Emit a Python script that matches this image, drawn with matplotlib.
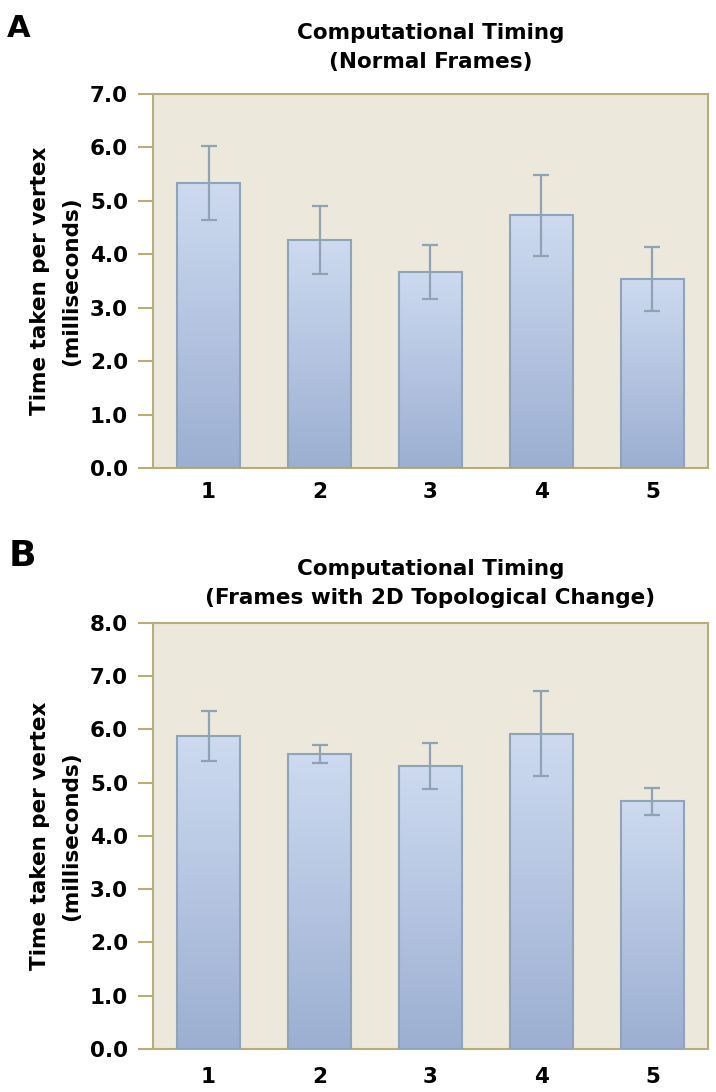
import matplotlib
matplotlib.use('Agg')
import matplotlib.pyplot as plt
import numpy as np
from matplotlib.colors import LinearSegmentedColormap

plt.rcParams['font.family'] = ['DejaVu Sans']
plt.rcParams['font.weight'] = 'bold'

# data (ms per vertex, mean and error)
conditions = ['1', '2', '3', '4', '5']
normal_ms = [5.33, 4.27, 3.67, 4.73, 3.53]
normal_err = [0.69, 0.63, 0.50, 0.76, 0.60]
topo_ms = [5.87, 5.53, 5.31, 5.92, 4.65]
topo_err = [0.47, 0.17, 0.44, 0.80, 0.25]

bg = '#ECE8DC'
spine_col = '#B8AD76'
edge_col = '#8FA3BA'
err_col = '#8FA3B5'
bar_cmap = LinearSegmentedColormap.from_list('barfade', ['#9CAFD2', '#CDDAF0'])

fig = plt.figure(figsize=(7.16, 10.92), dpi=100)
ax_a = fig.add_axes([0.2137, 0.5714, 0.7751, 0.3425])
ax_b = fig.add_axes([0.2137, 0.0394, 0.7751, 0.3904])


def draw_panel(ax, vals, errs, ymax, title, title_pad, xpad):
    x = np.arange(1, len(vals) + 1)
    ax.set_facecolor(bg)
    bars = ax.bar(x, vals, width=0.56, color='none', edgecolor=edge_col,
                  linewidth=1.5, zorder=3)
    grad = np.linspace(0, 1, 256).reshape(-1, 1)
    for b in bars:
        x0, w, h = b.get_x(), b.get_width(), b.get_height()
        im = ax.imshow(grad, extent=[x0, x0 + w, 0, h], origin='lower',
                       aspect='auto', cmap=bar_cmap, zorder=2)
        im.set_clip_path(b)
    ax.errorbar(x, vals, yerr=errs, fmt='none', ecolor=err_col,
                elinewidth=1.6, capsize=6, capthick=1.6, zorder=4)
    ax.set_xlim(0.5, 5.5)
    ax.set_ylim(0, ymax)
    ax.set_xticks(x)
    ax.set_xticklabels(conditions)
    yt = np.arange(0, ymax + 0.01, 1.0)
    ax.set_yticks(yt)
    ax.set_yticklabels(['%.1f' % v for v in yt])
    ax.tick_params(axis='y', length=11, width=1.5, color=spine_col,
                   labelsize=15.5, pad=7)
    ax.tick_params(axis='x', length=0, labelsize=15.5, pad=xpad)
    for s in ax.spines.values():
        s.set_color(spine_col)
        s.set_linewidth(1.5)
    ax.set_ylabel('Time taken per vertex\n(milliseconds)', fontsize=15.5,
                  fontweight='bold', linespacing=1.75, labelpad=6)
    ax.set_title(title, fontsize=15.5, fontweight='bold', pad=title_pad,
                 linespacing=1.55)


draw_panel(ax_a, normal_ms, normal_err, 7.0,
           'Computational Timing\n(Normal Frames)', 19, 10)
draw_panel(ax_b, topo_ms, topo_err, 8.0,
           'Computational Timing\n(Frames with 2D Topological Change)', 13.5, 13)

fig.text(7 / 716, 1 - 37 / 1092, 'A', fontsize=22, fontweight='bold',
         va='baseline', ha='left')
fig.text(9 / 716, 1 - 566 / 1092, 'B', fontsize=26, fontweight='bold',
         va='baseline', ha='left')

fig.savefig('out.png', dpi=100, facecolor='white')
